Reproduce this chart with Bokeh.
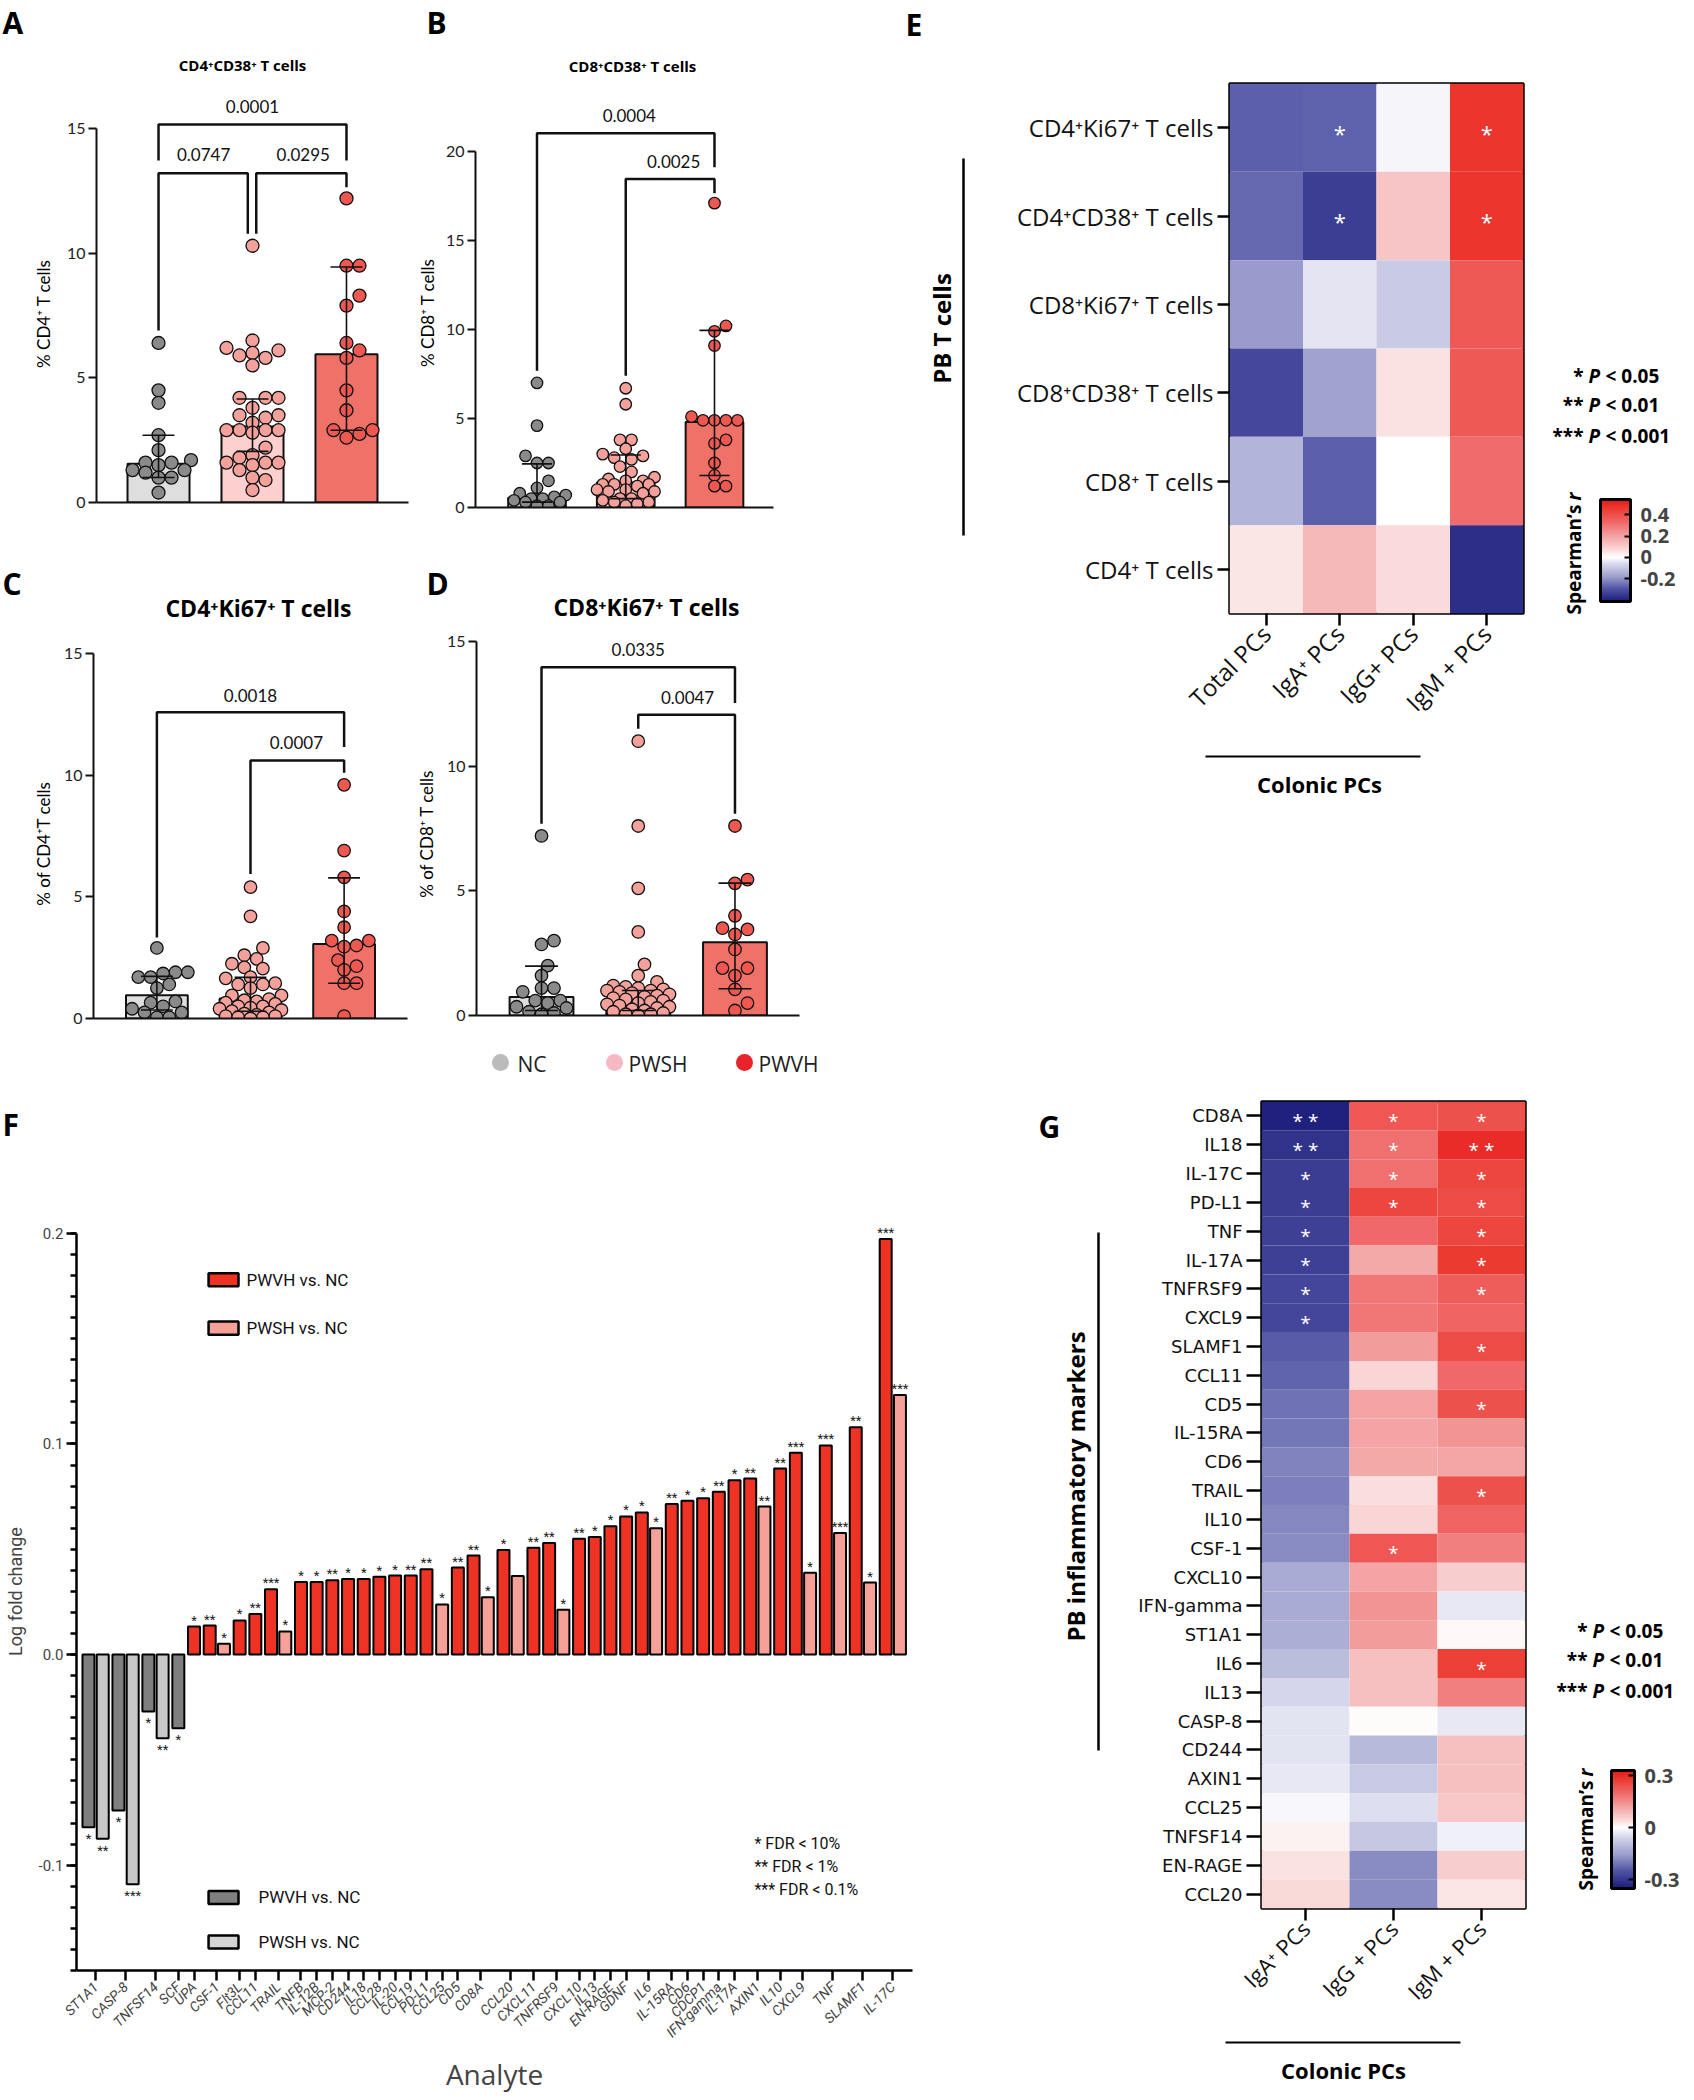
import math
from math import pi
from bokeh.plotting import figure
from bokeh.layouts import row, column
from bokeh.models import (Range1d, FactorRange, FixedTicker, ColorBar,
                          LinearColorMapper, PrintfTickFormatter, ColumnDataSource)
from bokeh.core.properties import value
from bokeh.embed import file_html
from bokeh.resources import INLINE

# ============================ DATA ============================
GROUPS = ["NC", "PWSH", "PWVH"]

# A: CD4+CD38+ T cells (% of CD4+ T cells)
A_nc = [6.4, 4.5, 4.0, 2.7, 2.1, 1.7, 1.6, 1.6, 1.5, 1.3, 1.3, 1.2, 1.0, 1.0, 0.4]
A_pwsh = [10.3, 6.5, 6.2, 6.1, 6.0, 5.9, 5.8, 5.5, 4.2, 4.2, 4.2, 3.8, 3.5, 3.5, 3.4, 3.2,
          2.9, 2.9, 2.9, 2.9, 2.8, 2.2, 1.9, 1.8, 1.6, 1.6, 1.6, 1.5, 1.3, 1.0, 0.9, 0.5]
A_pwvh = [12.2, 9.5, 9.5, 8.3, 7.9, 6.4, 6.1, 5.8, 4.5, 3.7, 2.9, 2.9, 2.75, 2.6]
A_median = [1.55, 3.05, 5.95]
A_q1 = [1.0, 2.05, 2.9]
A_q3 = [2.7, 4.15, 9.45]
A_p = ["0.0001", "0.0747", "0.0295"]

# B: CD8+CD38+ T cells (% of CD8+ T cells)
B_nc = [7.0, 4.6, 2.9, 2.5, 2.5, 1.5, 1.1, 0.8, 0.7, 0.6, 0.5, 0.5, 0.4, 0.3, 0.3, 0.1, 0.1]
B_pwsh = [6.7, 5.8, 3.8, 3.8, 3.3, 3.0, 2.9, 2.8, 2.7, 2.3, 2.0, 1.7, 1.6, 1.5, 1.5, 1.3,
          1.3, 1.3, 1.2, 1.0, 1.0, 0.9, 0.9, 0.8, 0.5, 0.5, 0.4, 0.3, 0.3, 0.2, 0.1]
B_pwvh = [17.1, 10.2, 9.9, 9.1, 5.1, 4.9, 4.9, 4.9, 4.9, 3.8, 3.6, 2.5, 1.8, 1.2, 1.2]
B_median = [0.55, 1.4, 4.8]
B_q1 = [0.3, 0.5, 1.8]
B_q3 = [2.45, 2.95, 9.95]
B_p = ["0.0004", "0.0025"]

# C: CD4+Ki67+ T cells (% of CD4+ T cells)
C_nc = [2.9, 1.9, 1.9, 1.85, 1.7, 1.7, 1.4, 1.25, 0.7, 0.65, 0.5, 0.4, 0.25, 0.25, 0.05, 0.05]
C_pwsh = [5.4, 4.2, 2.9, 2.6, 2.45, 2.25, 2.1, 2.05, 1.7, 1.65, 1.45, 1.4, 1.4, 1.25, 0.95,
          0.95, 0.8, 0.75, 0.7, 0.65, 0.6, 0.5, 0.5, 0.45, 0.4, 0.35, 0.3, 0.25, 0.2, 0.15,
          0.1, 0.1, 0.05, 0.05, 0.0]
C_pwvh = [9.6, 6.9, 5.8, 4.4, 3.75, 3.2, 3.2, 3.0, 2.95, 2.4, 2.15, 2.0, 1.45, 1.45, 0.1]
C_median = [0.96, 0.82, 3.06]
C_q1 = [0.35, 0.3, 1.45]
C_q3 = [1.73, 1.69, 5.78]
C_p = ["0.0018", "0.0007"]

# D: CD8+Ki67+ T cells (% of CD8+ T cells)
D_nc = [7.2, 3.0, 2.85, 2.0, 1.6, 1.1, 1.1, 0.95, 0.6, 0.6, 0.5, 0.35, 0.3, 0.15, 0.1, 0.05]
D_pwsh = [11.0, 7.6, 5.1, 3.35, 2.05, 1.6, 1.35, 1.2, 1.15, 1.1, 1.05, 1.0, 1.0, 0.95, 0.9,
          0.85, 0.8, 0.75, 0.7, 0.65, 0.6, 0.55, 0.5, 0.45, 0.4, 0.35, 0.3, 0.25, 0.2, 0.15,
          0.1, 0.05, 0.05, 0.0]
D_pwvh = [7.6, 5.45, 5.3, 4.0, 3.5, 3.45, 3.25, 2.65, 1.9, 1.9, 1.6, 1.05, 0.5, 0.2]
D_median = [0.74, 0.6, 2.94]
D_q1 = [0.2, 0.2, 1.07]
D_q3 = [1.98, 1.0, 5.31]
D_p = ["0.0335", "0.0047"]

# E: Spearman r, PB T cells vs colonic PCs
E_rows = ["CD4⁺Ki67⁺ T cells", "CD4⁺CD38⁺ T cells", "CD8⁺Ki67⁺ T cells",
          "CD8⁺CD38⁺ T cells", "CD8⁺ T cells", "CD4⁺ T cells"]
E_cols = ["Total PCs", "IgA⁺ PCs", "IgG+ PCs", "IgM + PCs"]
E_total = [-0.275, -0.26, -0.185, -0.32, -0.135, 0.05]
E_iga = [-0.27, -0.336, -0.04, -0.17, -0.275, 0.145]
E_igg = [-0.016, 0.12, -0.09, 0.054, 0.0, 0.07]
E_igm = [0.47, 0.47, 0.37, 0.37, 0.32, -0.37]
E_sig_total = ["", "", "", "", "", ""]
E_sig_iga = ["*", "*", "", "", "", ""]
E_sig_igg = ["", "", "", "", "", ""]
E_sig_igm = ["*", "*", "", "", "", ""]

# F: log fold change of plasma analytes
F_analytes = ["ST1A1", "CASP-8", "TNFSF14", "SCF", "UPA", "CSF-1", "Flt3L", "CCL11", "TRAIL",
              "TNFB", "IL-12B", "MCP-2", "CD244", "IL18", "CCL28", "IL-20", "CCL19", "PD-L1",
              "CCL25", "CD5", "CD8A", "CCL20", "CXCL11", "TNFRSF9", "CXCL10", "IL13",
              "EN-RAGE", "GDNF", "IL6", "IL-15RA", "CD6", "CDCP1", "IFN-gamma", "IL-17A",
              "AXIN1", "IL10", "CXCL9", "TNF", "SLAMF1", "IL-17C"]
F_pwvh = [-0.082, -0.074, -0.027, -0.035, 0.0133, 0.0138, 0.0162, 0.0193, 0.031,
          0.0345, 0.0345, 0.0353, 0.0359, 0.0359, 0.0369, 0.0375, 0.0375, 0.0405,
          None, 0.0413, 0.047, 0.0496, 0.0507, 0.053, 0.055, 0.0558,
          0.0609, 0.0656, 0.0675, 0.0715, 0.073, 0.0742, 0.0773, 0.0828,
          0.0836, 0.0883, 0.0958, 0.0993, 0.1079, 0.1973]
F_pwsh = [-0.0875, -0.109, -0.0397, None, None, 0.0052, None, None, 0.011,
          None, None, None, None, None, None, None, None, None,
          0.0238, None, 0.0272, 0.0373, None, 0.0213, None, None,
          None, None, 0.060, None, None, None, None, None,
          0.0703, None, 0.0389, 0.0577, 0.0342, 0.1233]
F_pwvh_sig = ["*", "*", "*", "*", "*", "**", "*", "**", "***",
              "*", "*", "**", "*", "*", "*", "*", "**", "**",
              "", "**", "**", "*", "**", "**", "**", "*",
              "*", "*", "*", "**", "*", "*", "**", "*",
              "**", "**", "***", "***", "**", "***"]
F_pwsh_sig = ["**", "***", "**", "", "", "*", "", "", "*",
              "", "", "", "", "", "", "", "", "",
              "*", "", "*", "", "", "*", "", "",
              "", "", "*", "", "", "", "", "",
              "**", "", "*", "***", "*", "***"]

# G: Spearman r, PB inflammatory markers vs colonic PCs
G_rows = ["CD8A", "IL18", "IL-17C", "PD-L1", "TNF", "IL-17A", "TNFRSF9", "CXCL9", "SLAMF1",
          "CCL11", "CD5", "IL-15RA", "CD6", "TRAIL", "IL10", "CSF-1", "CXCL10", "IFN-gamma",
          "ST1A1", "IL6", "IL13", "CASP-8", "CD244", "AXIN1", "CCL25", "TNFSF14", "EN-RAGE",
          "CCL20"]
G_cols = ["IgA⁺ PCs", "IgG + PCs", "IgM + PCs"]
G_iga = [-0.34, -0.31, -0.29, -0.29, -0.285, -0.285, -0.275, -0.275, -0.24, -0.23, -0.21,
         -0.205, -0.19, -0.195, -0.185, -0.18, -0.13, -0.13, -0.125, -0.1, -0.055, -0.035,
         -0.035, -0.03, -0.01, 0.015, 0.035, 0.045]
G_igg = [0.23, 0.19, 0.19, 0.26, 0.2, 0.11, 0.18, 0.18, 0.13, 0.05, 0.12, 0.12, 0.11, 0.04,
         0.05, 0.23, 0.12, 0.14, 0.13, 0.08, 0.08, 0.005, -0.105, -0.077, -0.042, -0.08,
         -0.18, -0.18]
G_igm = [0.24, 0.3, 0.26, 0.25, 0.26, 0.28, 0.22, 0.21, 0.25, 0.2, 0.24, 0.14, 0.115, 0.24,
         0.21, 0.17, 0.06, -0.03, 0.01, 0.27, 0.17, -0.03, 0.08, 0.08, 0.07, -0.02, 0.06, 0.03]
G_sig_iga = ["**", "**", "*", "*", "*", "*", "*", "*"] + [""] * 20
G_sig_igg = ["*", "*", "*", "*"] + [""] * 11 + ["*"] + [""] * 12
G_sig_igm = ["*", "**", "*", "*", "*", "*", "*", "", "*", "", "*", "", "", "*", "", "",
             "", "", "", "*", "", "", "", "", "", "", "", ""]

P_LEGEND = [("*", "< 0.05"), ("**", "< 0.01"), ("***", "< 0.001")]

# ============================ STYLE ============================
BAR_FILL = {"NC": "#dedede", "PWSH": "#fbd0cf", "PWVH": "#f07168"}
PT_FILL = {"NC": "#8a8a8a", "PWSH": "#f4a19c", "PWVH": "#ef5850"}
INK = "#111111"
TICK_FONT = "Lato"
SANS = "Open Sans"


def make_palette(lo, hi, n=256):
    neg = [(-1.0, "#1b1b7a"), (-0.7, "#5357a6"), (-0.45, "#9a9ccc"), (-0.15, "#d6d7eb"), (0.0, "#ffffff")]
    pos = [(0.0, "#ffffff"), (0.15, "#f9d5d5"), (0.35, "#f4a6a6"), (0.6, "#f06a6a"),
           (0.85, "#eb3a30"), (1.0, "#e8161b")]

    def hx(c):
        return [int(c[i:i + 2], 16) for i in (1, 3, 5)]

    def interp(stops, t):
        for (t0, c0), (t1, c1) in zip(stops[:-1], stops[1:]):
            if t0 <= t <= t1:
                f = 0 if t1 == t0 else (t - t0) / (t1 - t0)
                a, b = hx(c0), hx(c1)
                return "#%02x%02x%02x" % tuple(int(round(a[k] + f * (b[k] - a[k]))) for k in range(3))
        return stops[-1][1] if t > 0 else stops[0][1]

    out = []
    for i in range(n):
        v = lo + (hi - lo) * (i + 0.5) / n
        out.append(interp(neg, max(-1.0, v / -lo)) if v < 0 else interp(pos, min(1.0, v / hi)))
    return out


def _no_align(p):
    try:
        p.frame_align = False
    except Exception:
        pass


def base_fig(w, h, l, r, t, b, xr, yr):
    p = figure(width=w, height=h, x_range=xr, y_range=yr, output_backend="svg",
               toolbar_location=None, tools="", title=None,
               min_border_left=l, min_border_right=r, min_border_top=t, min_border_bottom=b)
    _no_align(p)
    p.outline_line_color = None
    p.grid.visible = False
    p.background_fill_color = "white"
    p.border_fill_color = "white"
    return p


def aux(w, h):
    """Blank panel whose frame is the whole canvas; coordinates are local pixels (y down)."""
    p = figure(width=w, height=h, x_range=Range1d(0, w), y_range=Range1d(h, 0),
               x_axis_location=None, y_axis_location=None, output_backend="svg",
               toolbar_location=None, tools="", title=None, min_border=0)
    _no_align(p)
    p.outline_line_color = None
    p.grid.visible = False
    p.background_fill_color = "white"
    p.border_fill_color = "white"
    return p


def _style(bold, italic):
    if bold and italic:
        return "bold italic"
    if bold:
        return "bold"
    if italic:
        return "italic"
    return "normal"


def txt(p, x, y, text, size, bold=False, align="center", baseline="middle", angle=0,
        color="black", font=SANS, italic=False):
    p.text([x], [y], text=[text], text_font=value(font), text_font_size="%spx" % size,
           text_font_style=_style(bold, italic), text_align=align, text_baseline=baseline,
           angle=angle, text_color=color)


def seg(p, x0, y0, x1, y1, w=2.5):
    p.segment([x0], [y0], [x1], [y1], line_color="black", line_width=w)


def p_legend(p, xp, ys):
    for (stars, rest), yy in zip(P_LEGEND, ys):
        txt(p, xp - 5, yy, stars, 19, bold=True, align="right")
        txt(p, xp, yy, "P", 19, bold=True, italic=True, align="left")
        txt(p, xp + 17, yy, rest, 19, bold=True, align="left")


def spearman(p, x, y_split):
    txt(p, x, y_split + 4, "Spearman’s", 19, bold=True, angle=pi / 2, align="right")
    txt(p, x, y_split, "r", 19, bold=True, italic=True, angle=pi / 2, align="left")


def swarm(vals, ppy, ppx, d, maxoff_units=0.36):
    maxoff = maxoff_units * ppx
    step = d * 0.5
    cands = [0.0]
    k = 1
    while k * step <= maxoff + 1e-9:
        cands += [k * step, -k * step]
        k += 1
    placed = []
    offs = [0.0] * len(vals)
    for i in sorted(range(len(vals)), key=lambda j: vals[j]):
        y = vals[i] * ppy
        best, best_d = 0.0, -1.0
        for c in cands:
            md = min((math.hypot(c - px, y - py) for px, py in placed), default=1e9)
            if md >= d * 0.92:
                best = c
                break
            if md > best_d:
                best_d, best = md, c
        placed.append((best, y))
        offs[i] = best / ppx
    return offs


def dot_panel(s):
    p = base_fig(s["w"], s["h"], *s["border"], Range1d(*s["xr"]), Range1d(*s["yr"]))
    ya = p.yaxis[0]
    ya.ticker = FixedTicker(ticks=s["yticks"])
    ya.bounds = (0, s["yticks"][-1])
    ya.axis_line_width = 2
    ya.axis_line_color = INK
    ya.major_tick_line_width = 2
    ya.major_tick_line_color = INK
    ya.major_tick_out = 8
    ya.major_tick_in = 0
    ya.minor_tick_line_color = None
    ya.major_label_text_font = TICK_FONT
    ya.major_label_text_font_size = "16px"
    ya.major_label_text_color = "#222222"
    ya.major_label_standoff = 3
    xa = p.xaxis[0]
    xa.ticker = FixedTicker(ticks=[])
    xa.axis_line_width = 2
    xa.axis_line_color = INK
    xa.major_tick_line_color = None
    xa.minor_tick_line_color = None
    xa.major_label_text_font_size = "0px"

    xs = [0, 1, 2]
    p.vbar(x=xs, top=s["median"], bottom=0, width=s["bw"],
           fill_color=[BAR_FILL[g] for g in GROUPS], line_color=INK, line_width=2)
    for gi, (g, vals) in enumerate(zip(GROUPS, s["data"])):
        offs = swarm(vals, s["ppy"], s["ppx"], s["ps"])
        p.scatter([gi + o for o in offs], vals, size=s["ps"], fill_color=PT_FILL[g],
                  line_color=INK, line_width=1.3)
    cap = 0.17
    p.segment(xs, s["q1"], xs, s["q3"], line_color=INK, line_width=1.6)
    p.segment([x - cap for x in xs], s["q3"], [x + cap for x in xs], s["q3"], line_color=INK, line_width=1.6)
    p.segment([x - cap for x in xs], s["q1"], [x + cap for x in xs], s["q1"], line_color=INK, line_width=1.6)
    for (g1, g2, yb, e1, e2, ptxt, tx, ty) in s["brackets"]:
        p.line([g1, g1, g2, g2], [e1, yb, yb, e2], line_color=INK, line_width=2.5)
        p.text([tx], [ty], text=[ptxt], text_font=value(TICK_FONT), text_font_size="17px",
               text_align="center", text_baseline="middle", text_color="#111111")
    return p


# ============================ PANELS A-D ============================
pA = dot_panel(dict(
    w=355, h=480, border=(36, 7, 0, 58), xr=(-0.66, 2.66), yr=(0, 16.93),
    ppx=94, ppy=24.93, yticks=[0, 5, 10, 15], bw=0.66, ps=13, data=[A_nc, A_pwsh, A_pwvh],
    median=A_median, q1=A_q1, q3=A_q3,
    brackets=[(0, 2, 15.16, 13.72, 13.72, A_p[0], 1.0, 15.9),
              (0, 0.95, 13.21, 6.9, 10.78, A_p[1], 0.48, 13.96),
              (1.04, 2, 13.21, 10.78, 12.65, A_p[2], 1.54, 13.96)]))

pB = dot_panel(dict(
    w=460, h=480, border=(35, 127, 0, 53), xr=(-0.693, 2.665), yr=(0, 23.99),
    ppx=88.75, ppy=17.8, yticks=[0, 5, 10, 15, 20], bw=0.65, ps=11.5, data=[B_nc, B_pwsh, B_pwvh],
    median=B_median, q1=B_q1, q3=B_q3,
    brackets=[(0, 2, 21.03, 7.69, 19.12, B_p[0], 1.04, 22.0),
              (1, 2, 18.46, 7.4, 17.66, B_p[1], 1.54, 19.46)]))

pC = dot_panel(dict(
    w=355, h=421, border=(30, 8, 0, 27), xr=(-0.677, 2.677), yr=(0, 16.19),
    ppx=94.5, ppy=24.33, yticks=[0, 5, 10, 15], bw=0.66, ps=12.5, data=[C_nc, C_pwsh, C_pwvh],
    median=C_median, q1=C_q1, q3=C_q3,
    brackets=[(0, 2, 12.58, 3.33, 11.16, C_p[0], 1.0, 13.28),
              (1, 2, 10.6, 5.94, 10.1, C_p[1], 1.49, 11.33)]))

pD = dot_panel(dict(
    w=460, h=421, border=(36, 101, 0, 30), xr=(-0.672, 2.667), yr=(0, 15.68),
    ppx=96.75, ppy=24.93, yticks=[0, 5, 10, 15], bw=0.66, ps=12.5, data=[D_nc, D_pwsh, D_pwvh],
    median=D_median, q1=D_q1, q3=D_q3,
    brackets=[(0, 2, 13.97, 7.69, 12.53, D_p[0], 1.0, 14.68),
              (1, 2, 12.06, 11.5, 8.09, D_p[1], 1.51, 12.77)]))

# strips with panel letters, titles, axis titles and the group legend
sAB = aux(900, 80)
txt(sAB, 2, 1, "A", 30, bold=True, align="left", baseline="top")
txt(sAB, 426, 1, "B", 30, bold=True, align="left", baseline="top")
txt(sAB, 242, 64, "CD4⁺CD38⁺ T cells", 15, bold=True)
txt(sAB, 632, 65, "CD8⁺CD38⁺ T cells", 15, bold=True)
aA = aux(60, 480)
txt(aA, 43, 233, "% CD4⁺ T cells", 17, angle=pi / 2, font=TICK_FONT)
aB = aux(25, 480)
txt(aB, 12, 232, "% CD8⁺ T cells", 17, angle=pi / 2, font=TICK_FONT)

sCD = aux(900, 64)
txt(sCD, 2, 2, "C", 30, bold=True, align="left", baseline="top")
txt(sCD, 426, 2, "D", 30, bold=True, align="left", baseline="top")
txt(sCD, 258, 47, "CD4⁺Ki67⁺ T cells", 23, bold=True)
txt(sCD, 646, 46, "CD8⁺Ki67⁺ T cells", 23, bold=True)
aC = aux(60, 421)
txt(aC, 43, 219, "% of CD4⁺T cells", 17, angle=pi / 2, font=TICK_FONT)
aD = aux(25, 421)
txt(aD, 11, 209, "% of CD8⁺ T cells", 17, angle=pi / 2, font=TICK_FONT)

sLeg = aux(900, 55)
sLeg.scatter([500, 614, 744], [17, 17, 17], size=17, fill_color=["#bbbbbb", "#f5b8c4", "#e8232a"],
             line_color=None)
for tx, g in [(517, "NC"), (628, "PWSH"), (758, "PWVH")]:
    txt(sLeg, tx, 18, g, 21, align="left", color="#222222")


# ============================ HEATMAPS ============================
def heatmap(w, h, border, cols, rows, colvals, colsigs, mapper, ylab_size, ylab_font, ytick_out,
            xlab_size, star_size):
    p = base_fig(w, h, *border, FactorRange(factors=list(cols)), FactorRange(factors=list(reversed(rows))))
    xs, ys, vs, st = [], [], [], []
    for c, vals, sigs in zip(cols, colvals, colsigs):
        for r, v, sg in zip(rows, vals, sigs):
            xs.append(c)
            ys.append(r)
            vs.append(v)
            st.append(" ".join(sg))
    src = ColumnDataSource(dict(x=xs, y=ys, v=vs, s=st))
    p.rect(x="x", y="y", width=1, height=1, source=src,
           fill_color={"field": "v", "transform": mapper}, line_color=None)
    p.text(x="x", y="y", text="s", source=src, text_color="white", text_font=value(SANS),
           text_font_size="%dpx" % star_size, text_align="center", text_baseline="middle", y_offset=5)
    p.outline_line_color = "black"
    p.outline_line_width = 2.5
    for ax, fs, fnt, tout in [(p.yaxis[0], ylab_size, ylab_font, ytick_out),
                              (p.xaxis[0], xlab_size, SANS, 12)]:
        ax.axis_line_color = None
        ax.major_tick_line_color = "black"
        ax.major_tick_line_width = 2.5
        ax.major_tick_out = tout
        ax.major_tick_in = 0
        ax.major_label_text_font = fnt
        ax.major_label_text_font_size = "%dpx" % fs
        ax.major_label_text_color = "#111111"
        ax.major_label_standoff = 4
    p.xaxis.major_label_orientation = pi / 4
    return p


def colorbar(p, mapper, loc, size, ticks, labels):
    cb = ColorBar(color_mapper=mapper, location=loc, width=size[0], height=size[1],
                  padding=0, ticker=FixedTicker(ticks=ticks),
                  major_label_overrides=dict(zip(ticks, labels)),
                  major_label_text_font=SANS, major_label_text_font_size="20px",
                  major_label_text_font_style="bold", bar_line_color="black", bar_line_width=3,
                  major_tick_line_color="black", major_tick_line_width=2, major_tick_in=6,
                  major_tick_out=0, background_fill_alpha=0, border_line_color=None,
                  label_standoff=10)
    p.add_layout(cb, "center")


# ---------------- E ----------------
mapE = LinearColorMapper(palette=make_palette(-0.41, 0.54), low=-0.41, high=0.54)
pE = heatmap(565, 740, (254, 17, 83, 127), E_cols, E_rows,
             [E_total, E_iga, E_igg, E_igm], [E_sig_total, E_sig_iga, E_sig_igg, E_sig_igm],
             mapE, 24, SANS, 12, 24, 22)
eL = aux(75, 1100)
txt(eL, 5, 3, "E", 30, bold=True, align="left", baseline="top")
txt(eL, 41, 328, "PB T cells", 24, bold=True, angle=pi / 2)
seg(eL, 63, 158, 63, 535)
eB = aux(565, 360)
txt(eB, 344, 43, "Colonic PCs", 22, bold=True)
seg(eB, 230, 16, 445, 16, 2)
eR = aux(150, 1100)
p_legend(eR, 48, [375, 404, 435])
spearman(eR, 33, 500)
colorbar(eR, mapE, (60, 499), (30, 102), [-0.2, 0.0, 0.2, 0.4], ["-0.2", "0", "0.2", "0.4"])

# ---------------- G ----------------
mapG = LinearColorMapper(palette=make_palette(-0.35, 0.33), low=-0.35, high=0.33)
pG = heatmap(420, 925, (146, 10, 1, 117), G_cols, G_rows,
             [G_iga, G_igg, G_igm], [G_sig_iga, G_sig_igg, G_sig_igm],
             mapG, 18, "DejaVu Sans", 15, 22, 19)
gL = aux(115, 995)
txt(gL, 38, 5, "G", 30, bold=True, align="left", baseline="top")
txt(gL, 75, 386, "PB inflammatory markers", 24, bold=True, angle=pi / 2)
seg(gL, 98, 132, 98, 650)
gB = aux(420, 70)
txt(gB, 228, 44, "Colonic PCs", 22, bold=True)
seg(gB, 110, 17, 345, 17, 2)
gR = aux(155, 995)
p_legend(gR, 57, [530, 559, 590])
spearman(gR, 50, 676)
colorbar(gR, mapG, (76, 207), (23, 118), [-0.3, 0.0, 0.3], ["-0.3", "0", "0.3"])

# ============================ PANEL F ============================
F_GAP = 1.1
bx, btop, bcol, bsig = [], [], [], []
tick_pos, tick_lab = [], []
cur = None
for name, v, s, sv, ss in zip(F_analytes, F_pwvh, F_pwsh, F_pwvh_sig, F_pwsh_sig):
    mine = []
    for val, sig, kind in ((v, sv, "PWVH"), (s, ss, "PWSH")):
        if val is None:
            continue
        if cur is None:
            cur = 0.0
        elif not mine:
            cur += F_GAP
        else:
            cur += 1.0
        xpos = round(cur, 4)
        mine.append(xpos)
        bx.append(xpos)
        btop.append(val)
        bsig.append(sig)
        if val >= 0:
            bcol.append("#ee3224" if kind == "PWVH" else "#f5a199")
        else:
            bcol.append("#7f7f7f" if kind == "PWVH" else "#c8c8c8")
    tick_pos.append(round(sum(mine) / len(mine), 4))
    tick_lab.append(name)

xmax = bx[-1] + 0.88
pF = base_fig(1000, 951, 76, 88, 68, 118, Range1d(-0.84, xmax), Range1d(-0.15, 0.2099))
pF.vbar(x=bx, top=btop, bottom=0, width=0.84, fill_color=bcol, line_color="black", line_width=2)
pos_x = [x for x, t in zip(bx, btop) if t >= 0]
pos_y = [t for t in btop if t >= 0]
pos_s = [s for s, t in zip(bsig, btop) if t >= 0]
neg_x = [x for x, t in zip(bx, btop) if t < 0]
neg_y = [t for t in btop if t < 0]
neg_s = [s for s, t in zip(bsig, btop) if t < 0]
pF.text(pos_x, pos_y, text=pos_s, text_font=value("Roboto"), text_font_size="13px",
        text_align="center", text_baseline="bottom", y_offset=1, text_color="#222222")
pF.text(neg_x, neg_y, text=neg_s, text_font=value("Roboto"), text_font_size="13px",
        text_align="center", text_baseline="top", y_offset=4, text_color="#222222")

ya = pF.yaxis[0]
ya.ticker = FixedTicker(ticks=[-0.1, 0.0, 0.1, 0.2],
                        minor_ticks=[round(-0.15 + 0.01 * i, 2) for i in range(36)])
ya.formatter = PrintfTickFormatter(format="%.1f")
ya.bounds = (-0.15, 0.2)
ya.axis_line_width = 2.5
ya.major_tick_line_width = 2.5
ya.minor_tick_line_width = 2.5
ya.major_tick_out = 10
ya.major_tick_in = 0
ya.minor_tick_out = 6
ya.minor_tick_in = 0
ya.major_label_text_font = "Roboto"
ya.major_label_text_font_size = "15px"
ya.major_label_standoff = 3
ya.axis_label = "Log fold change"
ya.axis_label_text_font = "Roboto"
ya.axis_label_text_font_size = "18px"
ya.axis_label_text_font_style = "normal"
ya.axis_label_standoff = 10
xa = pF.xaxis[0]
xa.ticker = FixedTicker(ticks=tick_pos)
xa.major_label_overrides = dict(zip(tick_pos, tick_lab))
xa.major_label_orientation = pi / 4
xa.axis_line_width = 2.5
xa.major_tick_line_width = 2.5
xa.major_tick_out = 10
xa.major_tick_in = 0
xa.minor_tick_line_color = None
xa.major_label_text_font = "Roboto"
xa.major_label_text_font_style = "italic"
xa.major_label_text_font_size = "14px"
xa.major_label_standoff = 4
xa.axis_label = "Analyte"
xa.axis_label_text_font = SANS
xa.axis_label_text_font_size = "28px"
xa.axis_label_text_font_style = "normal"
xa.axis_label_standoff = 6

pF.rect(x=[9.47, 9.47], y=[0.178, 0.155], width=2.1, height=0.0062,
        fill_color=["#ee3224", "#f5a199"], line_color="black", line_width=2.5)
pF.rect(x=[9.47, 9.47], y=[-0.1153, -0.1365], width=2.1, height=0.0062,
        fill_color=["#7f7f7f", "#d4d4d4"], line_color="black", line_width=2.5)
pF.text([11.08, 11.08, 11.92, 11.92], [0.178, 0.155, -0.1153, -0.1365],
        text=["PWVH vs. NC", "PWSH vs. NC", "PWVH vs. NC", "PWSH vs. NC"],
        text_font=value("Roboto"), text_font_size="17px", text_align="left",
        text_baseline="middle", text_color="#111111")
pF.text([46.7, 46.7, 46.7], [-0.0899, -0.1008, -0.1115],
        text=["* FDR < 10%", "** FDR < 1%", "*** FDR < 0.1%"],
        text_font=value("Roboto"), text_font_size="16px", text_align="left",
        text_baseline="middle", text_color="#111111")
sF = aux(1000, 44)
txt(sF, 2, 3, "F", 30, bold=True, align="left", baseline="top")

# ============================ LAYOUT ============================
left_top = column(sAB, row(aA, pA, aB, pB), sCD, row(aC, pC, aD, pD), sLeg)
right_top = row(eL, column(pE, eB), eR)
bottom = row(column(sF, pF), gL, column(pG, gB), gR)
layout = column(row(left_top, right_top), bottom)
open("out.html", "w").write(file_html(layout, INLINE))
